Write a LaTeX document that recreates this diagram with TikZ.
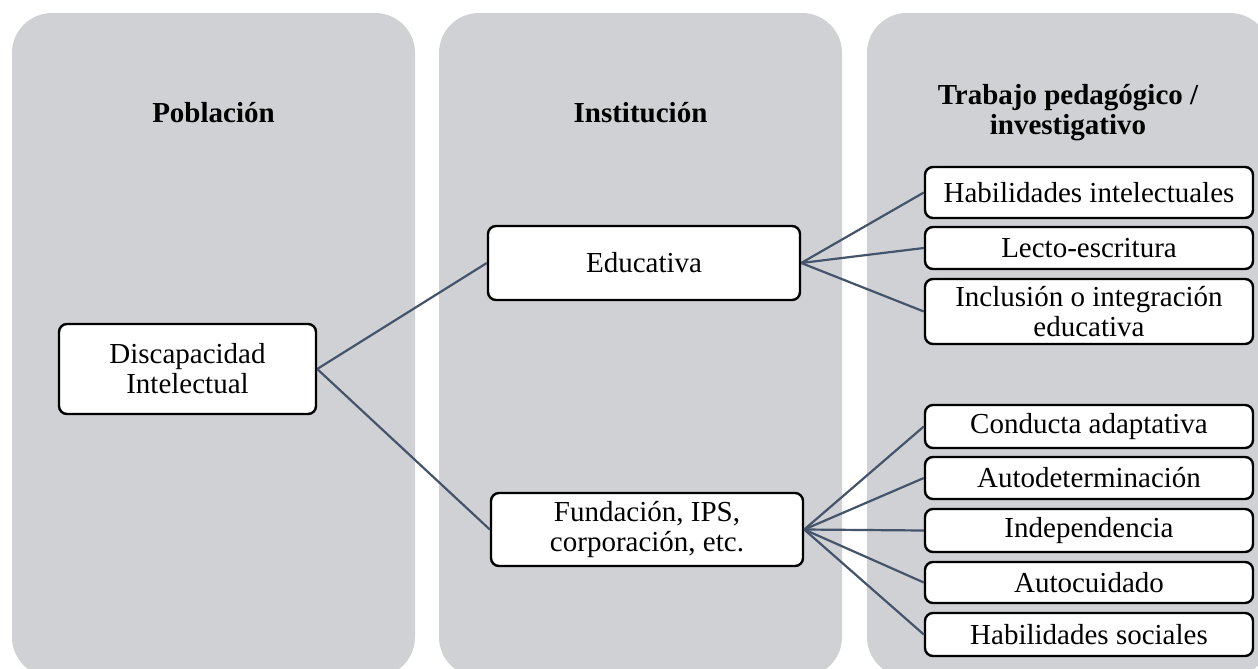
\documentclass[tikz,border=0pt]{standalone}
\usepackage{fontspec}
\setmainfont{Liberation Serif}
\definecolor{panelgray}{RGB}{208,209,213}
\definecolor{linkblue}{RGB}{68,84,106}
\begin{document}
\begin{tikzpicture}[x=0.5pt,y=-0.5pt,
  panel/.style={fill=panelgray, rounded corners=20pt},
  item/.style={draw=black, fill=white, line width=1.2pt, rounded corners=4pt,
    align=center, inner sep=0pt, font=\fontsize{14.5pt}{15pt}\selectfont},
  heading/.style={font=\fontsize{14.5pt}{15pt}\selectfont\bfseries, align=center},
  link/.style={draw=linkblue, line width=1.1pt}]
  \clip (0,0) rectangle (1258,669);
  \fill[white] (0,0) rectangle (1258,669);

  % three background columns
  \path[panel] (12,13) rectangle (415,677);
  \path[panel] (439,13) rectangle (842,677);
  \path[panel] (867,13) rectangle (1270,677);

  % column headings
  \node[heading] (hpob) at (213.5,113) {Población};
  \node[heading] (hins) at (640.5,113) {Institución};
  \node[heading] (htra) at (1068,113) {Trabajo pedagógico /\\investigativo};

  % boxes
  \node[item, minimum width=128.5pt, minimum height=45pt] (dis) at (187.5,369) {Discapacidad\\Intelectual};
  \node[item, minimum width=156pt, minimum height=37pt] (edu) at (644,263) {Educativa};
  \node[item, minimum width=156pt, minimum height=36.5pt] (fun) at (647,529.5) {Fundación, IPS,\\corporación, etc.};

  \node[item, minimum width=164pt, minimum height=25.5pt] (hint) at (1089,192.5) {Habilidades intelectuales};
  \node[item, minimum width=164pt, minimum height=21pt] (lec) at (1089,248) {Lecto-escritura};
  \node[item, minimum width=164pt, minimum height=32.5pt] (inc) at (1089,311.5) {Inclusión o integración\\educativa};

  \node[item, minimum width=164pt, minimum height=21.5pt] (con) at (1089,426.5) {Conducta adaptativa};
  \node[item, minimum width=164pt, minimum height=21pt] (aut) at (1089,478) {Autodeterminación};
  \node[item, minimum width=164pt, minimum height=21.5pt] (ind) at (1089,530.5) {Independencia};
  \node[item, minimum width=164pt, minimum height=20.5pt] (acu) at (1089,582.5) {Autocuidado};
  \node[item, minimum width=164pt, minimum height=21.5pt] (hsoc) at (1089,634.5) {Habilidades sociales};

  % connectors
  \draw[link] (dis.east) -- (edu.west);
  \draw[link] (dis.east) -- (fun.west);
  \foreach \t in {hint,lec,inc} \draw[link] (edu.east) -- (\t.west);
  \foreach \t in {con,aut,ind,acu,hsoc} \draw[link] (fun.east) -- (\t.west);
\end{tikzpicture}
\end{document}
